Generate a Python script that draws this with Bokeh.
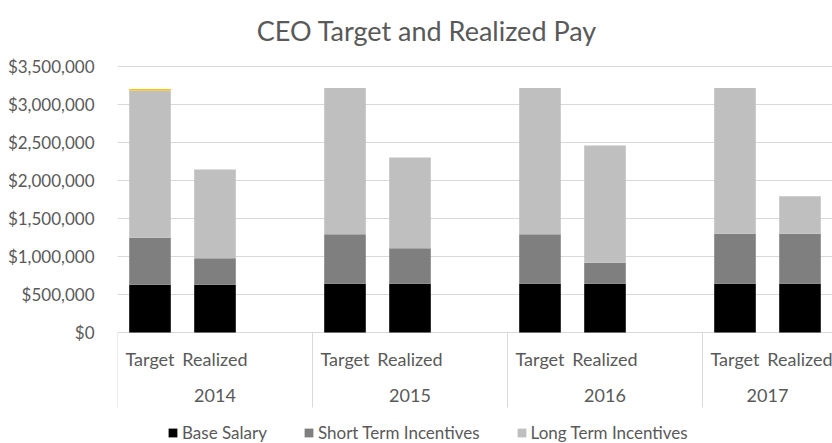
from bokeh.plotting import figure
from bokeh.models import (ColumnDataSource, FixedTicker, NumeralTickFormatter,
                          Legend, LegendItem, Label)
from bokeh.core.properties import value
from bokeh.embed import file_html
from bokeh.resources import INLINE

# ---- data ----
title_text = "CEO Target and Realized Pay"
years = ["2014", "2015", "2016", "2017"]
kinds = ["Target", "Realized"]
base_salary = [627000, 627000, 640000, 640000, 640000, 640000, 640000, 640000]
short_term = [617000, 349000, 650000, 468000, 650000, 276000, 657000, 657000]
long_term = [1936000, 1166000, 1925000, 1192000, 1925000, 1541000, 1918000, 493000]
other = [20000, 0, 0, 0, 0, 0, 0, 0]
y_ticks = [0, 500000, 1000000, 1500000, 2000000, 2500000, 3000000, 3500000]
series_names = ["Base Salary", "Short Term Incentives", "Long Term Incentives"]

FONT = "Lato"
TXT = "#595959"
GRID = "#d9d9d9"
colors = ["#000000", "#7f7f7f", "#bfbfbf", "#ffc000"]

# slot layout: each year group has Target, Realized and a blank slot (last group no blank)
slots_per_group = [3, 3, 3, 2]
group_start = []
s = 0
for n in slots_per_group:
    group_start.append(s)
    s += n
n_slots = s

xs, cat_labels = [], []
for i, y in enumerate(years):
    for k, kind in enumerate(kinds):
        xs.append(group_start[i] + k + 0.5)
        cat_labels.append(kind)
group_centers = [group_start[i] + slots_per_group[i] / 2 for i in range(len(years))]

src = ColumnDataSource(dict(x=xs, base=base_salary, sti=short_term, lti=long_term,
                            oth=other, label=cat_labels))

p = figure(width=832, height=443, x_range=(0, n_slots), y_range=(-1458600, 4363300),
           output_backend="svg", toolbar_location=None,
           min_border_left=117, min_border_right=0, min_border_top=0,
           min_border_bottom=0)
p.outline_line_color = None
p.background_fill_color = "white"
p.border_fill_color = "white"

# title (placed above the plotting area)
p.add_layout(Label(x=4.76, y=3969000, text=title_text, text_font=FONT,
                   text_font_size="27px", text_color=TXT, text_align="center",
                   text_baseline="alphabetic"))

# axes
p.xaxis.visible = False
yax = p.yaxis[0]
yax.ticker = FixedTicker(ticks=y_ticks)
yax.formatter = NumeralTickFormatter(format="$0,0")
yax.bounds = (0, 3500000)
yax.axis_line_color = None
yax.major_tick_line_color = None
yax.minor_tick_line_color = None
yax.major_label_text_font = FONT
yax.major_label_text_font_size = "17px"
yax.major_label_text_color = TXT
yax.major_label_standoff = 17

p.xgrid.visible = False
p.ygrid.ticker = FixedTicker(ticks=y_ticks)
p.ygrid.bounds = (0, 3500000)
p.ygrid.grid_line_color = GRID
p.ygrid.grid_line_width = 1

# bars
rs = p.vbar_stack(["base", "sti", "lti", "oth"], x="x", width=0.64, source=src,
                  fill_color=colors, line_color=None)

# category separators
seps = group_start
p.segment(x0=seps, y0=[0] * len(seps), x1=seps, y1=[-985000] * len(seps),
          line_color=GRID, line_width=1)

# category labels
p.text(x="x", y=-341700, text="label", source=src, text_font=value(FONT),
       text_font_size="18px", text_color=TXT, text_align="center",
       text_baseline="middle")
p.text(x=group_centers, y=[-828000] * len(years), text=years, text_font=value(FONT),
       text_font_size="18px", text_color=TXT, text_align="center",
       text_baseline="middle")

legend = Legend(items=[LegendItem(label=series_names[i], renderers=[rs[i]]) for i in range(3)],
                orientation="horizontal", location=(50, 0),
                label_text_font=FONT, label_text_font_size="17px",
                label_text_color=TXT, glyph_width=11, glyph_height=11,
                label_standoff=4, spacing=36, padding=0, margin=0,
                border_line_color=None, background_fill_alpha=0)
p.add_layout(legend)

open("out.html", "w").write(file_html(p, INLINE))
